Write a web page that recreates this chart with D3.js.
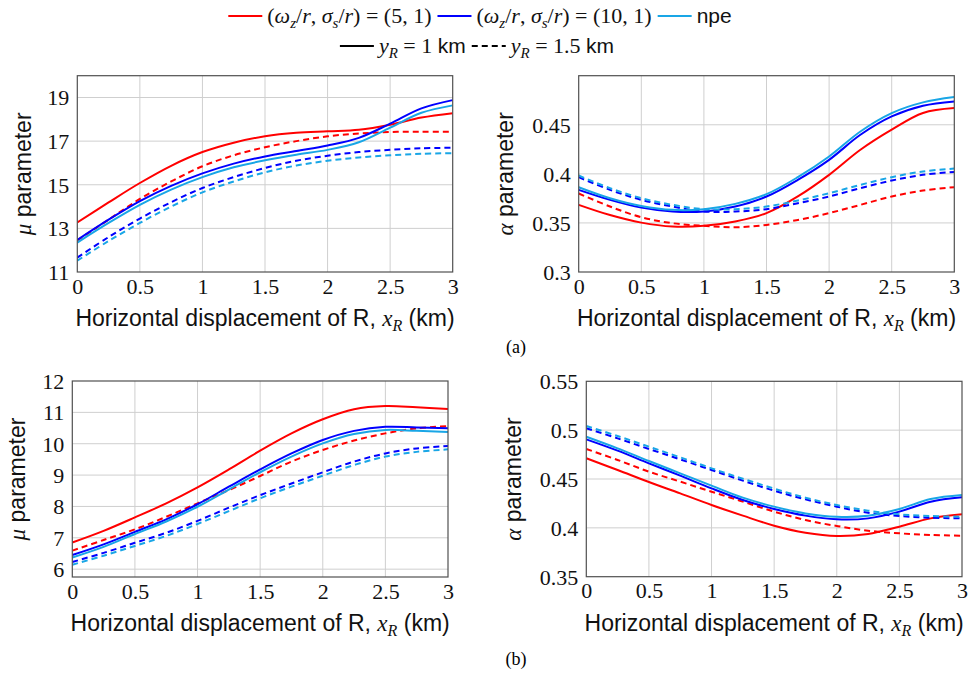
<!DOCTYPE html>
<html>
<head>
<meta charset="utf-8">
<title>mu alpha vs xR</title>
<script src="https://d3js.org/d3.v7.min.js"></script>
<style>
  body { margin: 0; background: #fff; }
  .grid line { stroke: #cfcfcf; stroke-width: 1px; }
  .frame { fill: none; stroke: #505050; stroke-width: 1.2px; }
  .tick line { display: none; }
  .domain { display: none; }
  .series { fill: none; stroke-width: 2px; }
</style>
</head>
<body>
<script>
// x positions (km)
const xs = [0, 0.25, 0.5, 0.75, 1, 1.25, 1.5, 1.75, 2, 2.25, 2.5, 2.75, 3];

// (a) mu parameter
const muA_red_1   = [13.27, 14.19, 15.08, 15.87, 16.5, 16.93, 17.22, 17.38, 17.45, 17.52, 17.75, 18.08, 18.28];
const muA_red_15  = [12.45, 13.4, 14.35, 15.15, 15.85, 16.35, 16.72, 17.0, 17.22, 17.35, 17.42, 17.43, 17.43];
const muA_blue_1  = [12.47, 13.4, 14.25, 14.95, 15.52, 15.97, 16.3, 16.55, 16.8, 17.15, 17.8, 18.5, 18.88];
const muA_blue_15 = [11.66, 12.6, 13.45, 14.2, 14.85, 15.35, 15.77, 16.1, 16.33, 16.5, 16.6, 16.67, 16.7];
const muA_npe_1   = [12.35, 13.25, 14.08, 14.78, 15.35, 15.8, 16.12, 16.38, 16.6, 16.95, 17.62, 18.3, 18.64];
const muA_npe_15  = [11.52, 12.42, 13.25, 14.0, 14.65, 15.15, 15.57, 15.88, 16.1, 16.25, 16.35, 16.42, 16.45];

// (a) alpha parameter
const alA_red_1   = [0.3684, 0.358, 0.3503, 0.3463, 0.347, 0.3514, 0.360, 0.377, 0.399, 0.4245, 0.445, 0.462, 0.467];
const alA_red_15  = [0.380, 0.3667, 0.3558, 0.3497, 0.347, 0.3456, 0.348, 0.353, 0.360, 0.3684, 0.3769, 0.383, 0.3864];
const alA_blue_1  = [0.3837, 0.3735, 0.3656, 0.3616, 0.3616, 0.3667, 0.3769, 0.3939, 0.4143, 0.4398, 0.4585, 0.4694, 0.4738];
const alA_blue_15 = [0.3966, 0.3837, 0.3735, 0.3667, 0.3616, 0.3616, 0.364, 0.370, 0.3769, 0.3854, 0.3932, 0.399, 0.402];
const alA_npe_1   = [0.3864, 0.3752, 0.3673, 0.3633, 0.364, 0.3694, 0.3793, 0.3966, 0.4177, 0.4432, 0.4619, 0.4728, 0.4782];
const alA_npe_15  = [0.3983, 0.3854, 0.3752, 0.3684, 0.364, 0.364, 0.3667, 0.3728, 0.3803, 0.3888, 0.3966, 0.4024, 0.4054];

// (b) mu parameter
const muB_red_1   = [6.85, 7.22, 7.65, 8.1, 8.61, 9.18, 9.78, 10.33, 10.78, 11.1, 11.2, 11.16, 11.11];
const muB_red_15  = [6.59, 6.93, 7.27, 7.67, 8.1, 8.52, 8.97, 9.43, 9.8, 10.1, 10.33, 10.49, 10.56];
const muB_blue_1  = [6.45, 6.79, 7.19, 7.59, 8.07, 8.63, 9.18, 9.69, 10.12, 10.41, 10.54, 10.52, 10.49];
const muB_blue_15 = [6.23, 6.52, 6.84, 7.16, 7.54, 7.96, 8.36, 8.73, 9.09, 9.43, 9.69, 9.85, 9.93];
const muB_npe_1   = [6.37, 6.71, 7.12, 7.52, 7.99, 8.54, 9.09, 9.59, 10.01, 10.31, 10.44, 10.41, 10.37];
const muB_npe_15  = [6.14, 6.43, 6.74, 7.06, 7.44, 7.85, 8.26, 8.63, 8.98, 9.32, 9.59, 9.74, 9.82];

// (b) alpha parameter
const alB_red_1   = [0.4712, 0.4592, 0.4469, 0.4353, 0.4234, 0.4125, 0.4022, 0.395, 0.3916, 0.3937, 0.4012, 0.4097, 0.4138];
const alB_red_15  = [0.4807, 0.4695, 0.4575, 0.4473, 0.437, 0.4268, 0.4166, 0.408, 0.4019, 0.3971, 0.3944, 0.3927, 0.392];
const alB_blue_1  = [0.4906, 0.479, 0.466, 0.4534, 0.4404, 0.4285, 0.4193, 0.4125, 0.4087, 0.4097, 0.4166, 0.4268, 0.4312];
const alB_blue_15 = [0.5019, 0.4916, 0.4807, 0.4701, 0.4592, 0.4483, 0.438, 0.4292, 0.4217, 0.4155, 0.4121, 0.4104, 0.4097];
const alB_npe_1   = [0.4933, 0.4814, 0.4684, 0.4558, 0.4432, 0.4309, 0.4217, 0.4148, 0.4114, 0.4124, 0.4193, 0.4295, 0.4336];
const alB_npe_15  = [0.5043, 0.494, 0.4831, 0.4722, 0.4609, 0.4503, 0.4401, 0.4309, 0.4234, 0.4176, 0.4138, 0.4121, 0.4114];

const xTicks = [0, 0.5, 1, 1.5, 2, 2.5, 3];
const xTickLabels = ["0", "0.5", "1", "1.5", "2", "2.5", "3"];

const red = "#ff0000", blue = "#0000ff", npe = "#19a6e6";
const dash = "6,4";

const SERIF = "'Liberation Serif', 'Times New Roman', serif";
const SANS = "'Liberation Sans', Arial, Helvetica, sans-serif";

let width = 969;
let height = 673;

let svg = d3.select("body").append("svg")
    .attr("width", width)
    .attr("height", height);

// styling helpers: inline style so nothing from the axis generator overrides it
function serif(sel, size) { return sel.style("font-family", SERIF).style("font-size", size + "px"); }
function sans(sel, size) { return sel.style("font-family", SANS).style("font-size", size + "px"); }
function math(sel) { return sel.style("font-family", SERIF).style("font-style", "italic"); }

function panel(box, yDomain, yTicks, yName, series) {
    let x = d3.scaleLinear().domain([0, 3]).range([box.l, box.r]);
    let y = d3.scaleLinear().domain(yDomain).range([box.b, box.t]);
    let g = svg.append("g");

    // grid
    let grid = g.append("g").attr("class", "grid");
    grid.selectAll("line.v").data(xTicks.slice(1, -1)).join("line")
        .attr("class", "v")
        .attr("x1", d => x(d)).attr("x2", d => x(d))
        .attr("y1", box.t).attr("y2", box.b);
    grid.selectAll("line.h").data(yTicks.filter(d => d > yDomain[0] && d < yDomain[1])).join("line")
        .attr("class", "h")
        .attr("x1", box.l).attr("x2", box.r)
        .attr("y1", d => y(d)).attr("y2", d => y(d));

    // axes (labels only)
    let xa = g.append("g")
        .attr("transform", "translate(0," + box.b + ")")
        .call(d3.axisBottom(x).tickValues(xTicks).tickFormat((d, i) => xTickLabels[i]).tickSize(0).tickPadding(6));
    serif(xa.selectAll("text"), 22).attr("dy", "0.71em").attr("fill", "#111");
    let ya = g.append("g")
        .attr("transform", "translate(" + box.l + ",0)")
        .call(d3.axisLeft(y).tickValues(yTicks).tickFormat(d3.format("")).tickSize(0).tickPadding(8));
    serif(ya.selectAll("text"), 22).attr("dy", "0.34em").attr("fill", "#111");

    let line = d3.line()
        .x((d, i) => x(xs[i]))
        .y(d => y(d))
        .curve(d3.curveCatmullRom.alpha(0.5));

    let clipId = "clip" + Math.round(box.l) + Math.round(box.t);
    g.append("clipPath").attr("id", clipId).append("rect")
        .attr("x", box.l).attr("y", box.t).attr("width", box.r - box.l).attr("height", box.b - box.t);

    g.append("g").attr("clip-path", "url(#" + clipId + ")")
        .selectAll("path").data(series).join("path")
        .attr("class", "series")
        .attr("d", s => line(s.v))
        .attr("stroke", s => s.c)
        .attr("stroke-dasharray", s => s.dash ? dash : null);

    g.append("rect").attr("class", "frame")
        .attr("x", box.l).attr("y", box.t)
        .attr("width", box.r - box.l).attr("height", box.b - box.t);

    // x label
    let xl = sans(g.append("text"), 23).attr("fill", "#111")
        .attr("x", (box.l + box.r) / 2).attr("y", box.b + 54)
        .attr("text-anchor", "middle");
    xl.append("tspan").text("Horizontal displacement of R, ");
    math(xl.append("tspan")).text("x");
    math(xl.append("tspan")).style("font-size", "16px").attr("dy", 5).text("R");
    xl.append("tspan").attr("dy", -5).text(" (km)");

    // y label
    let yl = sans(g.append("text"), 23).attr("fill", "#111")
        .attr("transform", "translate(" + box.yl + "," + ((box.t + box.b) / 2) + ") rotate(-90)")
        .attr("text-anchor", "middle");
    math(yl.append("tspan")).text(yName);
    yl.append("tspan").text(" parameter");
}

function mk(r1, r15, b1, b15, n1, n15) {
    return [
        { v: r1, c: red }, { v: r15, c: red, dash: true },
        { v: b1, c: blue }, { v: b15, c: blue, dash: true },
        { v: n1, c: npe }, { v: n15, c: npe, dash: true }
    ];
}

panel({ l: 77.3, r: 452.7, t: 75.7, b: 272, yl: 31 }, [11, 20], [11, 13, 15, 17, 19], "\u03bc",
    mk(muA_red_1, muA_red_15, muA_blue_1, muA_blue_15, muA_npe_1, muA_npe_15));
panel({ l: 578.7, r: 954.3, t: 75.7, b: 272, yl: 513 }, [0.3, 0.5], [0.3, 0.35, 0.4, 0.45], "\u03b1",
    mk(alA_red_1, alA_red_15, alA_blue_1, alA_blue_15, alA_npe_1, alA_npe_15));
panel({ l: 72.3, r: 448, t: 381, b: 577, yl: 25 }, [5.75, 12], [6, 7, 8, 9, 10, 11, 12], "\u03bc",
    mk(muB_red_1, muB_red_15, muB_blue_1, muB_blue_15, muB_npe_1, muB_npe_15));
panel({ l: 586.3, r: 962, t: 381.3, b: 576.7, yl: 521 }, [0.35, 0.55], [0.35, 0.4, 0.45, 0.5, 0.55], "\u03b1",
    mk(alB_red_1, alB_red_15, alB_blue_1, alB_blue_15, alB_npe_1, alB_npe_15));

// sub captions
serif(svg.append("text"), 18).attr("x", 516).attr("y", 353)
    .attr("text-anchor", "middle").text("(a)");
serif(svg.append("text"), 18).attr("x", 516).attr("y", 665)
    .attr("text-anchor", "middle").text("(b)");

// legend
function legendRow(yPos, items, cx) {
    let row = svg.append("g");
    let pos = 0;
    items.forEach(it => {
        row.append("line")
            .attr("x1", pos).attr("x2", pos + 34).attr("y1", yPos).attr("y2", yPos)
            .attr("stroke", it.c).attr("stroke-width", 2.2)
            .attr("stroke-dasharray", it.dash ? dash : null);
        pos += 39;
        let t = row.append("text").attr("x", pos).attr("y", yPos + 7).attr("fill", "#111");
        it.parts.forEach(p => {
            let s = t.append("tspan").text(p[0]);
            if (p[1] === "math") math(s).style("font-size", (p[3] || 22) + "px");
            else if (p[1] === "sans") sans(s, p[3] || 21);
            else serif(s, p[3] || 22);
            if (p[2]) s.attr("dy", p[2]);
        });
        pos += t.node().getComputedTextLength() + 6;
    });
    pos -= 6;
    row.attr("transform", "translate(" + (cx - pos / 2) + ",0)");
}

const confParts = v => [["(", "serif"], ["\u03c9", "math"], ["z", "math", 5, 15], ["/", "serif", -5],
    ["r", "math"], [", ", "serif"], ["\u03c3", "math"], ["s", "math", 5, 15], ["/", "serif", -5],
    ["r", "math"], [") = (" + v + ")", "serif"]];

legendRow(16, [
    { c: red, parts: confParts("5, 1") },
    { c: blue, parts: confParts("10, 1") },
    { c: npe, parts: [["npe", "sans"]] }
], 480);

legendRow(46, [
    { c: "#000", parts: [["y", "math"], ["R", "math", 5, 15], [" = 1 ", "serif", -5], ["km", "sans"]] },
    { c: "#000", dash: true, parts: [["y", "math"], ["R", "math", 5, 15], [" = 1.5 ", "serif", -5], ["km", "sans"]] }
], 477);
</script>
</body>
</html>
